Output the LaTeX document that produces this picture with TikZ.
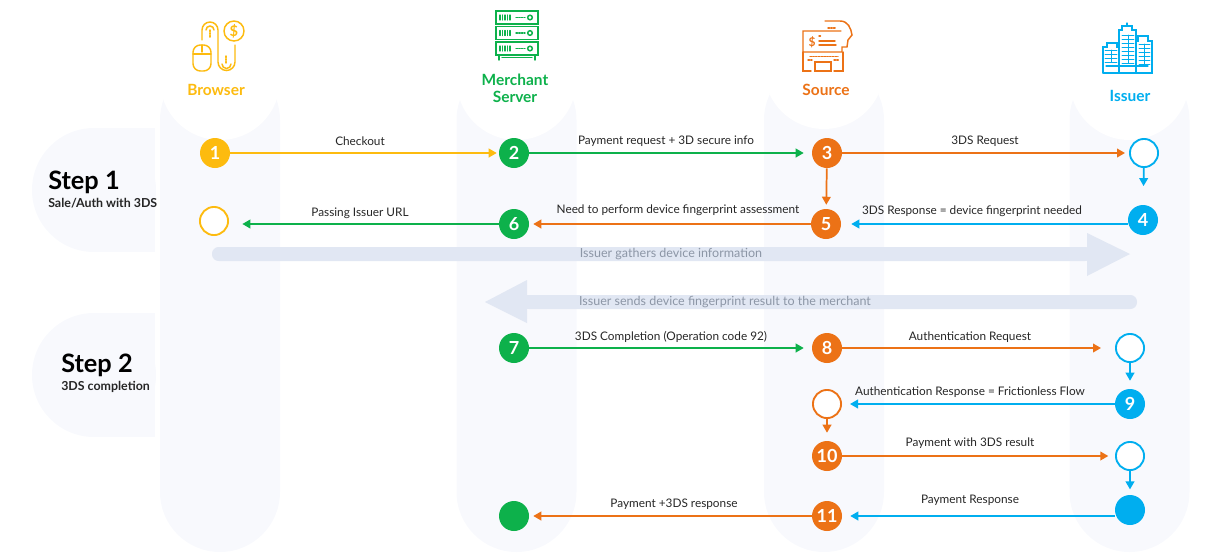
\documentclass[tikz,border=0pt]{standalone}
\usepackage{fontspec}
\setmainfont{Lato}
\usetikzlibrary{arrows.meta}

\definecolor{browsercol}{HTML}{FDBB0F}
\definecolor{merchantcol}{HTML}{0DB14B}
\definecolor{sourcecol}{HTML}{EC7216}
\definecolor{issuercol}{HTML}{00AEEF}
\definecolor{lanecol}{HTML}{F8F9FD}
\definecolor{bannercol}{HTML}{E1E7F3}
\definecolor{bannertext}{HTML}{8C96A6}
\definecolor{msgtext}{HTML}{262626}

\tikzset{
	numdot/.style={circle, fill=#1, minimum size=22.5pt, inner sep=0pt, text=white, font=\fontsize{13.5}{15}\selectfont\bfseries},
	opendot/.style={circle, draw=#1, fill=white, line width=1.4pt, minimum size=21.1pt, inner sep=0pt},
	flow/.style={#1, line width=1.3pt, -{Triangle[length=6pt,width=6.5pt]}},
	msg/.style={text=msgtext, font=\fontsize{8.85}{10}\selectfont},
	banner/.style={text=bannertext, font=\fontsize{9.4}{11}\selectfont},
	actor/.style={align=center, font=\fontsize{11.6}{13}\selectfont\bfseries},
	steptitle/.style={anchor=west, inner sep=0pt, text=black, font=\fontsize{19}{22}\selectfont\bfseries},
	stepnote/.style={anchor=west, inner sep=0pt, text=msgtext, font=\fontsize{9.3}{11}\selectfont\bfseries},
	icon/.style={#1, line width=1.1pt, line cap=round},
	iconthin/.style={#1, line width=.5pt}
}

\begin{document}
\begin{tikzpicture}[x=.75pt, y=-.75pt]
	\useasboundingbox (0,0) rectangle (1208,554);
	
	\foreach \x/\cy in {220/80, 516.5/80, 824/69, 1129.5/80} {
		\fill[lanecol, rounded corners=45pt] (\x-60,60) rectangle (\x+60,552);
		\fill[white] (\x-61,0) rectangle (\x+61,\cy);
		\fill[white] (\x,\cy) circle[radius=60];
	}
	
	\foreach \y in {190, 375} {
		\fill[lanecol] (94,\y) circle[radius=62];
		\fill[lanecol] (94,\y-62) rectangle (155,\y+62);
	}
	
	\node[steptitle] (stepone) at (48,182.5) {Step 1};
	\node[stepnote] (stepnoteone) at (48,203) {Sale/Auth with 3DS};
	\node[steptitle] (steptwo) at (61,365.5) {Step 2};
	\node[stepnote] (stepnotetwo) at (61,387) {3DS completion};
	
	\node[actor, text=browsercol] (browser) at (216,90) {Browser};
	\node[actor, text=merchantcol] (merchant) at (515,88) {Merchant\\Server};
	\node[actor, text=sourcecol] (source) at (826,90) {Source};
	\node[actor, text=issuercol] (issuer) at (1130,96) {Issuer};
	
	\begin{scope}[icon=browsercol]
		\draw[rounded corners=5.5pt] (193,71) rectangle (211,45);
		\draw (202,45) -- (202,52);
		\draw (193,54) -- (211,54);
		\draw (202,40) -- (202,30) arc[start angle=180, end angle=360, radius=8] -- (218,62) arc[start angle=180, end angle=0, radius=8.5] -- (235,45);
		\draw (206,30) arc[start angle=180, end angle=360, radius=4];
		\draw (222,64) arc[start angle=180, end angle=0, radius=4.5];
		\draw[densely dotted] (210,30) -- (210,38);
		\draw[densely dotted] (226,56) -- (226,63);
		\draw (234,31) circle[radius=10];
		\node[text=browsercol, inner sep=0pt, font=\fontsize{11}{12}\selectfont\bfseries] (coin) at (234,31) {\$};
	\end{scope}
	
	\begin{scope}[icon=merchantcol]
		\foreach \y in {11, 26.5, 42} {
			\draw (496,\y) rectangle (538,\y+13);
			\foreach \t in {0,2.5,...,10} {
				\draw[line width=.8pt] (500+\t,\y+4) -- (500+\t,\y+9);
			}
			\draw[densely dotted] (516,\y+6.5) -- (525,\y+6.5);
			\draw (530,\y+6.5) circle[radius=2.3];
		}
		\draw (499,55) -- (499,60);
		\draw (535,55) -- (535,60);
		\draw (502,57.5) -- (532,57.5);
	\end{scope}
	
	\begin{scope}[icon=sourcecol]
		\draw (825,21) -- (840,21) .. controls (848,21) and (851,28) .. (852,35) -- (848,40) -- (847,47) -- (842,47) -- (842,52) -- (803,52) -- (803,31) -- (841,31);
		\draw[densely dotted] (828,28) -- (836,28);
		\draw (819,41) -- (835,41);
		\draw (819,45) -- (836,45);
		\draw[densely dotted] (819,36) -- (821,36);
		\node[text=sourcecol, inner sep=0pt, font=\fontsize{9}{10}\selectfont\bfseries] (dollar) at (812,42) {\$};
		\draw (803,52) -- (803,71) -- (811,71);
		\draw (843,52) -- (843,71) -- (834,71);
		\draw (815,71) -- (815,62) -- (831,62) -- (831,71) -- cycle;
		\draw[densely dotted] (810,56.5) -- (838,56.5);
		\draw[densely dotted] (808,60) -- (812,60);
		\draw[densely dotted] (834,60) -- (839,60);
	\end{scope}
	
	\begin{scope}[icon=issuercol, line width=.9pt]
		\draw (1103,73) -- (1103,47) -- (1107,47) -- (1107,43) -- (1117,43) -- (1117,47) -- (1119,47);
		\draw (1119,73) -- (1119,30) -- (1122,30) -- (1122,26) -- (1132,26) -- (1132,30) -- (1136,30) -- (1136,73);
		\draw (1136,41) -- (1138,41) -- (1138,36) -- (1148,36) -- (1148,41) -- (1152,41) -- (1152,73) -- (1103,73);
		\draw (1127,26) -- (1127,23);
		\draw (1106,66) -- (1148,66);
		\foreach \y in {50,54,...,62} {
			\draw[iconthin=issuercol] (1105,\y) -- (1117,\y);
		}
		\foreach \y in {35,39,...,63} {
			\draw[iconthin=issuercol] (1122,\y) -- (1134,\y);
		}
		\foreach \y in {44,48,...,64} {
			\draw[iconthin=issuercol] (1139,\y) -- (1150,\y);
		}
		\draw[iconthin=issuercol] (1111,50) -- (1111,62);
		\draw[iconthin=issuercol] (1128,35) -- (1128,63);
		\draw[iconthin=issuercol] (1144,44) -- (1144,64);
	\end{scope}
	
	\fill[bannercol, rounded corners=5pt] (212,247) -- (1092,247) -- (1092,261) -- (212,261) -- cycle;
	\fill[bannercol] (1087,233) -- (1130,254) -- (1087,276) -- cycle;
	\node[banner] (gathers) at (671,254.5) {Issuer gathers device information};
	
	\fill[bannercol, rounded corners=5pt] (1137,295) -- (522,295) -- (522,309) -- (1137,309) -- cycle;
	\fill[bannercol] (527,280) -- (485,302) -- (527,323) -- cycle;
	\node[banner] (sends) at (725,302.5) {Issuer sends device fingerprint result to the merchant};
	
	\node[numdot=browsercol] (one) at (215,153) {1};
	\node[numdot=merchantcol] (two) at (514,153) {2};
	\node[numdot=sourcecol] (three) at (827,153) {3};
	\node[opendot=issuercol] (threeback) at (1144,153) {};
	\node[numdot=issuercol] (four) at (1143,220) {4};
	\node[numdot=sourcecol] (five) at (826,224) {5};
	\node[numdot=merchantcol] (six) at (514,224) {6};
	\node[opendot=browsercol] (sixback) at (214,221) {};
	\node[numdot=merchantcol] (seven) at (514,348) {7};
	\node[numdot=sourcecol] (eight) at (827,348) {8};
	\node[opendot=issuercol] (eightback) at (1130,348) {};
	\node[numdot=issuercol] (nine) at (1130,404) {9};
	\node[opendot=sourcecol] (nineback) at (827,404) {};
	\node[numdot=sourcecol] (ten) at (827,456) {10};
	\node[opendot=issuercol] (tenback) at (1130,456) {};
	\node[circle, fill=issuercol, minimum size=22.5pt, inner sep=0pt] (payresp) at (1130,510) {};
	\node[numdot=sourcecol] (eleven) at (827,516) {11};
	\node[circle, fill=merchantcol, minimum size=22.5pt, inner sep=0pt] (payend) at (514,516) {};
	
	\draw[flow=browsercol, shorten >=1.5pt] (one) -- (two);
	\draw[flow=merchantcol, shorten >=6pt] (two) -- (three);
	\draw[flow=sourcecol, shorten >=3pt] (three) -- (threeback);
	\draw[flow=sourcecol, shorten >=3pt] (three) -- (five);
	\draw[flow=issuercol, shorten >=14pt] (threeback) -- (four);
	\draw[flow=issuercol, shorten >=7.5pt] (five -| four.west) -- (five);
	\draw[flow=sourcecol, shorten >=3pt] (five) -- (six);
	\draw[flow=merchantcol, shorten >=10pt] (six) -- (six -| sixback.east);
	\draw[flow=merchantcol, shorten >=6pt] (seven) -- (eight);
	\draw[flow=sourcecol, shorten >=10.5pt] (eight) -- (eightback);
	\draw[flow=issuercol, shorten >=6pt] (eightback) -- (nine);
	\draw[flow=issuercol, shorten >=6pt] (nine) -- (nineback);
	\draw[flow=sourcecol, shorten >=6pt] (nineback) -- (ten);
	\draw[flow=sourcecol, shorten >=5pt] (ten) -- (tenback);
	\draw[flow=issuercol, shorten >=4pt] (tenback) -- (payresp);
	\draw[flow=issuercol, shorten >=6pt] (eleven -| payresp.west) -- (eleven);
	\draw[flow=sourcecol, shorten >=3pt] (eleven) -- (payend);
	
	\node[msg] (checkout) at (360,141.5) {Checkout};
	\node[msg] (payreq) at (666,141) {Payment request + 3D secure info};
	\node[msg] (dsreq) at (985,141) {3DS Request};
	\node[msg] (passing) at (360,213) {Passing Issuer URL};
	\node[msg] (fingerprint) at (678,210) {Need to perform device fingerprint assessment};
	\node[msg] (dsresp) at (972,211) {3DS Response = device fingerprint needed};
	\node[msg] (completion) at (671,336.5) {3DS Completion (Operation code 92)};
	\node[msg] (authreq) at (970,337) {Authentication Request};
	\node[msg] (authresp) at (970,392.5) {Authentication Response = Frictionless Flow};
	\node[msg] (payres) at (970,443) {Payment with 3DS result};
	\node[msg] (payplus) at (674,504) {Payment +3DS response};
	\node[msg] (paymentresp) at (970,500.5) {Payment Response};
\end{tikzpicture}
\end{document}
